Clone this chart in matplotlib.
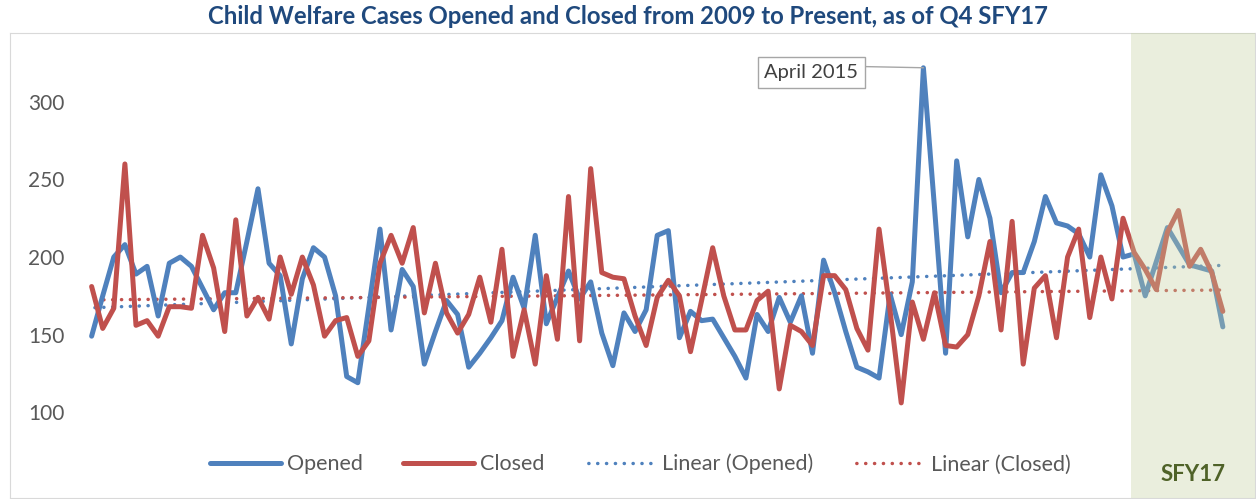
import numpy as np
import matplotlib.pyplot as plt

# monthly counts, Jan 2009 onward
opened = [149, 175, 200, 208, 189, 194, 162, 196, 200, 194, 180, 166, 177, 177, 210, 244, 196, 188,
          144, 186, 206, 200, 175, 123, 119, 168, 218, 153, 192, 181, 131, 152, 172, 163, 129, 138,
          148, 159, 187, 167, 214, 157, 174, 191, 173, 184, 151, 130, 164, 152, 166, 214, 217, 148,
          165, 159, 160, 148, 136, 122, 163, 152, 174, 158, 175, 138, 198, 177, 152, 129, 126, 122,
          176, 150, 184, 322, 232, 138, 262, 213, 250, 225, 177, 190, 190, 210, 239, 222, 220, 215,
          200, 253, 233, 200, 202, 175, 197, 219, 207, 195, 193, 191, 155]
closed = [181, 154, 167, 260, 156, 159, 149, 168, 168, 167, 214, 193, 152, 224, 162, 174, 160, 200,
          176, 200, 182, 149, 159, 161, 136, 146, 196, 214, 196, 219, 164, 196, 164, 151, 163, 187,
          158, 205, 136, 166, 131, 188, 147, 239, 146, 257, 190, 187, 186, 162, 143, 174, 185, 175,
          139, 172, 206, 175, 153, 153, 172, 178, 115, 156, 152, 143, 188, 188, 179, 154, 140, 218,
          165, 106, 171, 147, 177, 143, 142, 150, 175, 210, 153, 223, 131, 180, 188, 148, 200, 218,
          161, 200, 173, 225, 203, 192, 179, 216, 230, 194, 205, 190, 165]
yticks = [100, 150, 200, 250, 300]
peak_index = 75
peak_label = "April 2015"

months = np.arange(len(opened))
blue = "#4F81BD"
red = "#C0504D"
grey = "#595959"

plt.rcParams['font.family'] = ['Lato', 'DejaVu Sans']

fig = plt.figure(figsize=(12.56, 4.99), dpi=100)
ax = fig.add_axes([10 / 1256, 0.002, 1245 / 1256, (499 - 33) / 499 - 0.002])

ax.plot(months, opened, color=blue, lw=3.6, solid_joinstyle='round', solid_capstyle='round',
        label="Opened", zorder=3)
ax.plot(months, closed, color=red, lw=3.6, solid_joinstyle='round', solid_capstyle='round',
        label="Closed", zorder=3)

# linear trend lines (dots offset so the legend samples sit inset like Excel's)
fit_o = np.polyfit(months, opened, 1)
fit_c = np.polyfit(months, closed, 1)
dots = (1.6, (0.05, 2.5))
ax.plot(months, np.polyval(fit_o, months), color=blue, lw=2.5, linestyle=dots,
        dash_capstyle='round', label="Linear (Opened)", zorder=2)
ax.plot(months, np.polyval(fit_c, months), color=red, lw=2.5, linestyle=dots,
        dash_capstyle='round', label="Linear (Closed)", zorder=2)

# SFY17 shading
ax.axvspan(93.7, 106, color="#C3D19E", alpha=0.35, lw=0, zorder=5)
ax.text(99.3, 60, "SFY17", ha='center', va='center', fontsize=16, fontweight='bold',
        color="#4F6228", zorder=6)

# callout
ax.annotate(peak_label, xy=(peak_index, opened[peak_index]), xytext=(64.9, 319),
            ha='center', va='center', fontsize=14.5, color="#404040",
            bbox=dict(boxstyle='square,pad=0.33', fc='white', ec='#A6A6A6', lw=1),
            arrowprops=dict(arrowstyle='-', color='#A6A6A6', lw=1, relpos=(1, 0.85),
                            shrinkA=0, shrinkB=0), zorder=7)

ax.set_xlim(-7.36, 104.9)
ax.set_ylim(44.7, 344.4)
ax.set_xticks([])
ax.set_yticks(yticks)
ax.tick_params(axis='y', length=0, pad=-39.5, labelsize=15, labelcolor=grey)
for s in ax.spines.values():
    s.set_color("#D9D9D9")

leg = ax.legend(loc='center', bbox_to_anchor=(630 / 1245, (499 - 465) / 466), ncol=4,
                frameon=False, fontsize=15.5, handlelength=3.3, handletextpad=0.3,
                columnspacing=1.85)
for t in leg.get_texts():
    t.set_color(grey)

fig.text(0.5, 1 - 17 / 499, "Child Welfare Cases Opened and Closed from 2009 to Present, as of Q4 SFY17",
         ha='center', va='center', fontsize=17.2, fontweight='bold', color="#1F497D")

fig.savefig("out.png", dpi=100)
